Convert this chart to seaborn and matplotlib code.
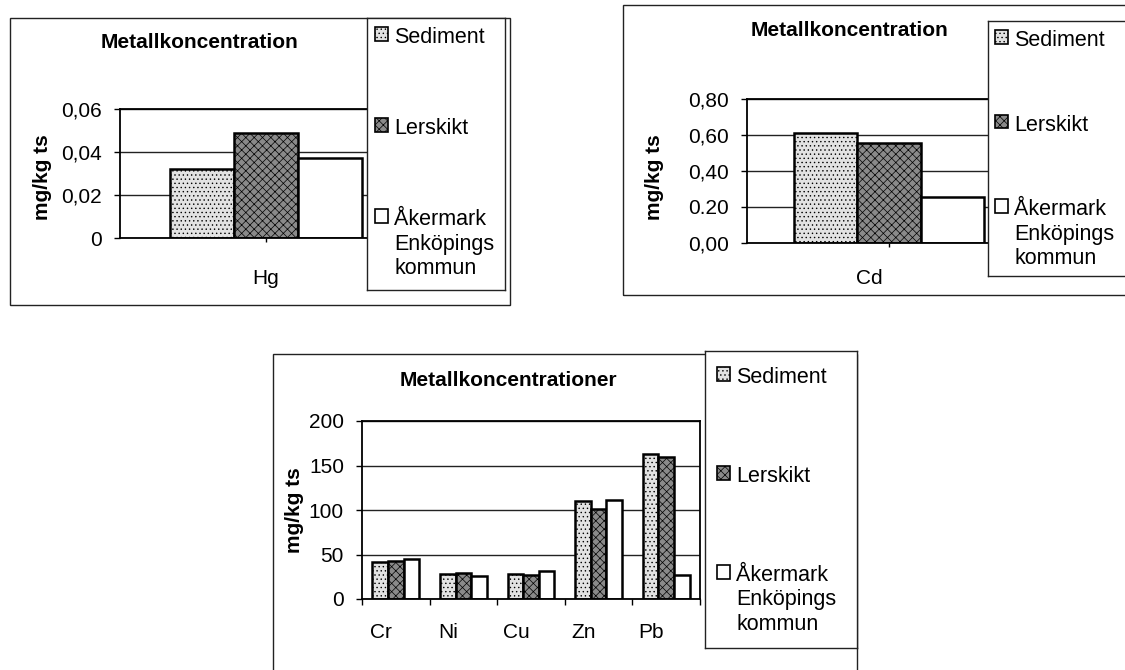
import numpy as np
import pandas as pd
import matplotlib
matplotlib.use('Agg')
import matplotlib.pyplot as plt
import matplotlib.patches as mpatches
import matplotlib.transforms as mtransforms
import seaborn as sns

# ---------------- data ----------------
series = ['Sediment', 'Lerskikt', 'Åkermark\nEnköpings\nkommun']

hg_metals = ['Hg']
hg_sediment = [0.032]
hg_lerskikt = [0.049]
hg_akermark = [0.037]

cd_metals = ['Cd']
cd_sediment = [0.61]
cd_lerskikt = [0.555]
cd_akermark = [0.255]

metals = ['Cr', 'Ni', 'Cu', 'Zn', 'Pb']
sediment = [42, 28, 28, 110, 163]
lerskikt = [43, 29, 27, 101, 160]
akermark = [45, 26, 31, 111, 27]

hg_ticks = [0, 0.02, 0.04, 0.06]
hg_ticklabels = ['0', '0,02', '0,04', '0,06']
cd_ticks = [0, 0.2, 0.4, 0.6, 0.8]
cd_ticklabels = ['0,00', '0.20', '0,40', '0,60', '0,80']
m_ticks = [0, 50, 100, 150, 200]
m_ticklabels = ['0', '50', '100', '150', '200']

title_single = 'Metallkoncentration'
title_multi = 'Metallkoncentrationer'
ylabel_text = 'mg/kg ts'

# ---------------- style ----------------
sns.set_theme(style='white')
plt.rcParams['font.family'] = ['Liberation Sans', 'DejaVu Sans']
plt.rcParams['hatch.linewidth'] = 0.5

W, H = 1125, 670
fig = plt.figure(figsize=(W / 100, H / 100), dpi=100)
fig.patch.set_facecolor('white')

face = ['#e2e2e2', '#8a8a8a', '#ffffff']
hatches = ['....', 'xxxx', '']
palette = dict(zip(series, face))

FS = 15


def rect(l, t, r, b):
    return [l / W, 1 - b / H, (r - l) / W, (b - t) / H]


def make_df(cats, s, l, a):
    rows = []
    for name, vals in zip(series, [s, l, a]):
        for c, v in zip(cats, vals):
            rows.append({'metal': c, 'series': name, 'value': v})
    return pd.DataFrame(rows)


def frame(l, t, r, b):
    fig.add_artist(mpatches.Rectangle((l / W, 1 - b / H), (r - l) / W, (b - t) / H,
                                      transform=fig.transFigure, fill=False,
                                      edgecolor='#222222', linewidth=1.0, zorder=0.5))


def panel(axrect, cats, s, l, a, width, ticks, ticklabels, ymax, xoff_px, xpad,
          boundary_ticks):
    ax = fig.add_axes(rect(*axrect))
    df = make_df(cats, s, l, a)
    sns.barplot(data=df, x='metal', y='value', hue='series', hue_order=series,
                order=cats, palette=palette, width=width, saturation=1,
                edgecolor='black', linewidth=1.8, errorbar=None, legend=False, ax=ax)
    for i, cont in enumerate(ax.containers):
        for p in cont:
            p.set_hatch(hatches[i])
    ax.set_xlim(-0.5, len(cats) - 0.5)
    ax.set_ylim(0, ymax)
    ax.set_yticks(ticks, ticklabels)
    ax.set_xlabel('')
    ax.set_ylabel('')
    ax.set_axisbelow(True)
    ax.yaxis.grid(True, color='#222222', linewidth=1.0)
    ax.xaxis.grid(False)
    for sp in ax.spines.values():
        sp.set_visible(True)
        sp.set_color('black')
        sp.set_linewidth(1.3)
    ax.tick_params(axis='y', left=True, length=4, width=1, pad=9, labelsize=FS,
                   colors='black', direction='out')
    if boundary_ticks:
        ax.set_xticks(np.arange(len(cats) + 1) - 0.5, minor=True)
        ax.tick_params(axis='x', which='minor', bottom=True, length=4, width=1,
                       color='black', direction='out')
        ax.tick_params(axis='x', which='major', bottom=True, length=0, pad=xpad,
                       labelsize=FS, labelcolor='black')
    else:
        ax.tick_params(axis='x', which='major', bottom=True, length=3, width=1,
                       pad=xpad, labelsize=FS, color='black', labelcolor='black',
                       direction='out')
    off = mtransforms.ScaledTranslation(xoff_px / 100, 0, fig.dpi_scale_trans)
    for tick in ax.xaxis.get_major_ticks():
        tick.label1.set_transform(tick.label1.get_transform() + off)
    return ax


def legend_box(lrect, dx_px, dy_px, spacing):
    l, t, r, b = lrect
    lax = fig.add_axes(rect(*lrect))
    lax.set_zorder(5)
    lax.set_facecolor('white')
    lax.set_xticks([])
    lax.set_yticks([])
    for sp in lax.spines.values():
        sp.set_visible(True)
        sp.set_color('#222222')
        sp.set_linewidth(1.0)
    handles = [mpatches.Patch(facecolor=f, edgecolor='black', hatch=h, linewidth=1.2)
               for f, h in zip(face, hatches)]
    leg = lax.legend(handles, series, loc='upper left',
                     bbox_to_anchor=(dx_px / (r - l), 1 - dy_px / (b - t)),
                     frameon=False, fontsize=FS + 0.5, labelspacing=spacing,
                     handlelength=0.6, handleheight=0.6, handletextpad=0.3,
                     borderpad=0, borderaxespad=0, labelcolor='black')
    # marker aligned with the first line of each label
    for col in leg._legend_handle_box.get_children():
        for row in col.get_children():
            row.align = 'top'
    return lax


def title(x, y, txt):
    fig.text(x / W, 1 - y / H, txt, ha='center', va='center', fontsize=FS,
             fontweight='bold', color='black')


def ylab(x, y):
    fig.text(x / W, 1 - y / H, ylabel_text, ha='center', va='center', fontsize=FS,
             fontweight='bold', rotation=90, color='black')


# ---------------- chart 1: Hg ----------------
frame(10, 18, 510, 305)
panel((120, 109, 412, 238), hg_metals, hg_sediment, hg_lerskikt, hg_akermark,
      0.66, hg_ticks, hg_ticklabels, 0.06, 0, 19, False)
legend_box((367, 18, 505, 290), 8, 9, 3.26)
title(200, 42, title_single)
ylab(42, 177)

# ---------------- chart 2: Cd ----------------
frame(623, 5, 1135, 295)
panel((747, 99, 1031, 243), cd_metals, cd_sediment, cd_lerskikt, cd_akermark,
      0.67, cd_ticks, cd_ticklabels, 0.8, -20, 16, False)
legend_box((988, 21, 1135, 276), 7, 9, 2.96)
title(850, 31, title_single)
ylab(655, 177)

# ---------------- chart 3: metals ----------------
frame(273, 354, 857, 690)
panel((362, 421, 700, 599), metals, sediment, lerskikt, akermark,
      0.69, m_ticks, m_ticklabels, 200, -15, 17, True)
legend_box((705, 351, 857, 648), 12, 16, 3.63)
title(508, 380, title_multi)
ylab(295, 510)

fig.savefig('out.png', dpi=100, facecolor='white')
